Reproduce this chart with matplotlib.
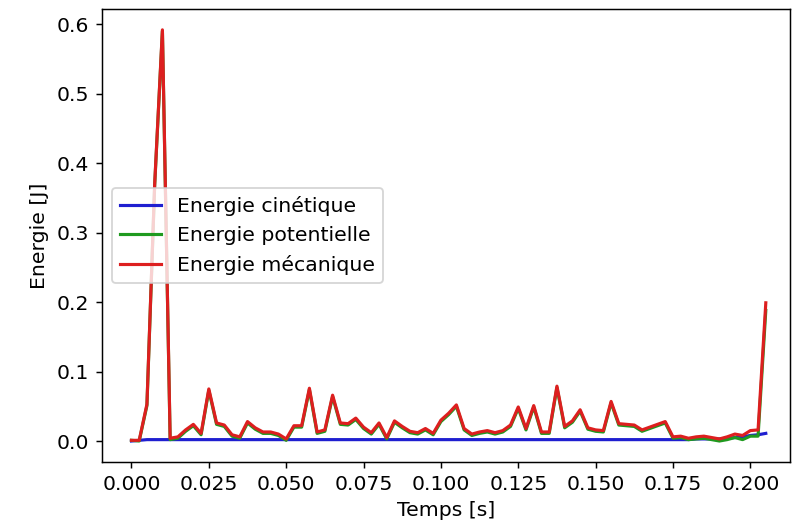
import numpy as np
import matplotlib
matplotlib.use("Agg")
import matplotlib.pyplot as plt

plt.rcParams['font.size'] = 11
plt.rcParams['lines.linewidth'] = 1.7

# pas de temps entre deux mesures
dt = 0.0025

e_meca = [0.001, 0.001, 0.053, 0.370, 0.592, 0.004, 0.006, 0.016, 0.024, 0.011,
          0.075, 0.026, 0.023, 0.009, 0.006, 0.028, 0.019, 0.013, 0.013, 0.010,
          0.003, 0.022, 0.022, 0.076, 0.013, 0.016, 0.066, 0.026, 0.025, 0.033,
          0.020, 0.012, 0.026, 0.005, 0.029, 0.021, 0.014, 0.012, 0.018, 0.011,
          0.030, 0.040, 0.052, 0.018, 0.010, 0.013, 0.015, 0.012, 0.015, 0.023,
          0.049, 0.018, 0.051, 0.013, 0.013, 0.079, 0.021, 0.029, 0.045, 0.019,
          0.016, 0.015, 0.057, 0.025, 0.024, 0.023, 0.016, 0.020, 0.024, 0.028,
          0.006, 0.007, 0.004, 0.006, 0.007, 0.005, 0.003, 0.006, 0.010, 0.008,
          0.015, 0.016, 0.199]

e_cin = [0.000, 0.001] + [0.002] * 68 + [0.002, 0.002, 0.002, 0.003, 0.003, 0.003,
                                         0.003, 0.004, 0.005, 0.006, 0.008, 0.009, 0.011]

e_pot = [0.001, 0.000, 0.051, 0.368, 0.590, 0.002, 0.004, 0.014, 0.022, 0.009,
         0.073, 0.024, 0.021, 0.007, 0.004, 0.026, 0.017, 0.011, 0.011, 0.008,
         0.001, 0.020, 0.020, 0.074, 0.011, 0.014, 0.064, 0.024, 0.023, 0.031,
         0.018, 0.010, 0.024, 0.003, 0.027, 0.019, 0.012, 0.010, 0.016, 0.009,
         0.028, 0.038, 0.050, 0.016, 0.008, 0.011, 0.013, 0.010, 0.013, 0.021,
         0.047, 0.016, 0.049, 0.011, 0.011, 0.077, 0.019, 0.027, 0.043, 0.017,
         0.014, 0.013, 0.055, 0.023, 0.022, 0.021, 0.014, 0.018, 0.022, 0.026,
         0.004, 0.005, 0.002, 0.003, 0.004, 0.002, 0.000, 0.002, 0.005, 0.002,
         0.007, 0.007, 0.188]

temps = np.arange(len(e_meca)) * dt


def plot_energies():
  fig = plt.figure(figsize=(798 / 133.2, 530 / 133.2), dpi=133.2)
  ax = fig.add_axes([0.1274, 0.1291, 0.8625, 0.8534])
  ax.plot(temps, e_cin, color='#1f1fd0', label='Energie cinétique')
  ax.plot(temps, e_pot, color='#1f9a1f', label='Energie potentielle')
  ax.plot(temps, e_meca, color='#dd1f1f', label='Energie mécanique')
  ax.set_xlim(-0.00963, 0.2128)
  ax.set_xlabel('Temps [s]')
  ax.set_ylabel('Energie [J]')
  ax.legend(loc='center left')
  fig.savefig('out.png', dpi=133.2)


plot_energies()
